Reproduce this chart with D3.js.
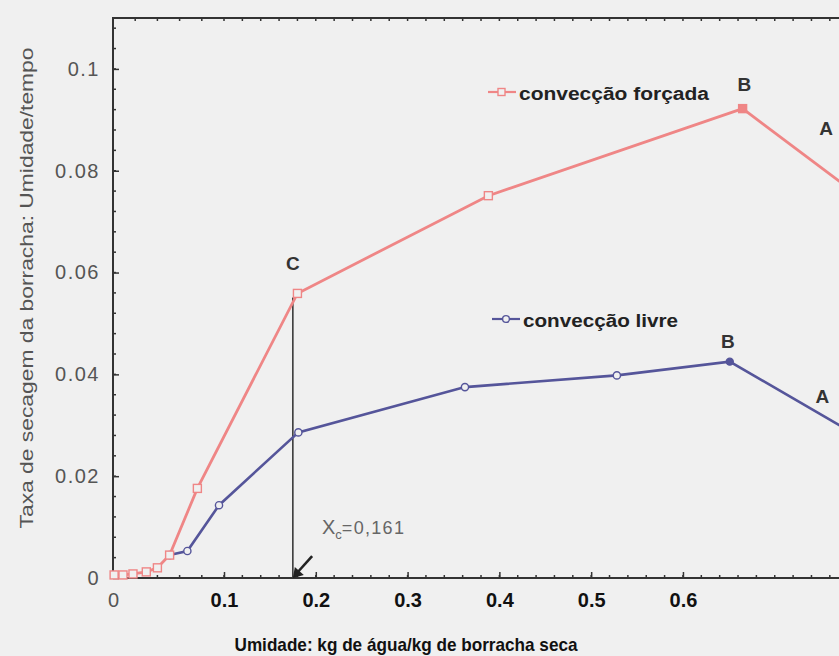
<!DOCTYPE html>
<html>
<head>
<meta charset="utf-8">
<script src="https://d3js.org/d3.v7.min.js"></script>
<style>
  body { margin: 0; background: #f0f0f0; }
  svg { display: block; }
</style>
</head>
<body>
<div id="graph-area"></div>
<script>

    // convecção forçada (red squares)
    const forcedX = [0.001, 0.009, 0.018, 0.030, 0.040, 0.051, 0.076, 0.180, 0.388, 0.665, 0.800];
    const forcedY = [0.0006, 0.0006, 0.0008, 0.0012, 0.0020, 0.0045, 0.0176, 0.0559, 0.0751, 0.0922, 0.0739];

    // convecção livre (blue circles)
    const freeX = [0.051, 0.067, 0.0955, 0.181, 0.3625, 0.528, 0.651, 0.800];
    const freeY = [0.0045, 0.0053, 0.0143, 0.0286, 0.0375, 0.0398, 0.0425, 0.0269];

    const xTicks = [0, 0.1, 0.2, 0.3, 0.4, 0.5, 0.6];
    const xTickLabels = ["0", "0.1", "0.2", "0.3", "0.4", "0.5", "0.6"];
    const yTicks = [0, 0.02, 0.04, 0.06, 0.08, 0.1];
    const yTickLabels = ["0", "0.02", "0.04", "0.06", "0.08", "0.1"];

    const xcValue = 0.175;   // where the X_c line stands on the picture
    const xcText = "=0,161";

    const w = 839;
    const h = 656;
    const padLeft = 113, padRight = 839, padTop = 18, padBottom = 578;

    const red = "#ef8686";
    const blue = "#55559a";
    const bg = "#f0f0f0";

    // the scanned axis is stretched between 0 and 0.1
    const xScale = d3.scaleLinear()
                     .domain([0, 0.1, 0.77])
                     .range([padLeft, 224, padRight]);

    const yScale = d3.scaleLinear()
                     .domain([0, 0.11])
                     .range([padBottom, padTop]);

    const svg = d3.select("#graph-area").append("svg")
                  .attr("width", w)
                  .attr("height", h)
                  .style("background", bg);

    // minor ticks
    const minorY = d3.range(0, 0.1101, 0.004);
    const minorX = d3.range(0, 0.771, 0.02);

    svg.append("g").selectAll("line").data(minorY).enter().append("line")
       .attr("x1", padLeft).attr("x2", padLeft + 3)
       .attr("y1", d => yScale(d)).attr("y2", d => yScale(d))
       .attr("stroke", "#333").attr("stroke-width", 1.5);

    svg.append("g").selectAll("line").data(minorX).enter().append("line")
       .attr("x1", d => xScale(d)).attr("x2", d => xScale(d))
       .attr("y1", padBottom).attr("y2", padBottom - 3)
       .attr("stroke", "#333").attr("stroke-width", 1.5);

    svg.append("g").selectAll("line").data(minorX).enter().append("line")
       .attr("x1", d => xScale(d)).attr("x2", d => xScale(d))
       .attr("y1", padTop).attr("y2", padTop + 3)
       .attr("stroke", "#333").attr("stroke-width", 1.5);

    // axes
    const yAxis = d3.axisLeft(yScale)
                    .tickValues(yTicks)
                    .tickFormat((d, i) => yTickLabels[i])
                    .tickSize(-6)
                    .tickPadding(13);

    const gy = svg.append("g")
       .attr("transform", "translate(" + padLeft + ",0)")
       .call(yAxis);
    gy.select(".domain").remove();
    gy.selectAll(".tick line").attr("stroke", "#333").attr("stroke-width", 1.5);
    gy.selectAll(".tick text")
      .style("font-family", "'Liberation Sans', Arial, sans-serif")
      .style("font-size", "20px")
      .style("letter-spacing", "1.5px")
      .attr("fill", "#555");

    const xAxis = d3.axisBottom(xScale)
                    .tickValues(xTicks)
                    .tickFormat((d, i) => xTickLabels[i])
                    .tickSize(-6)
                    .tickPadding(15);

    const gx = svg.append("g")
       .attr("transform", "translate(0," + padBottom + ")")
       .call(xAxis);
    gx.select(".domain").remove();
    gx.selectAll(".tick line").attr("stroke", "#333").attr("stroke-width", 1.5);
    gx.selectAll(".tick text")
      .style("font-family", "'Liberation Sans', Arial, sans-serif")
      .style("font-size", "20px")
      .style("font-weight", (d) => d === 0 ? "normal" : "bold")
      .attr("fill", (d) => d === 0 ? "#555" : "#111");

    // frame
    svg.append("path")
       .attr("d", "M" + padRight + "," + padTop + "H" + padLeft + "V" + padBottom + "H" + padRight)
       .attr("fill", "none")
       .attr("stroke", "#333")
       .attr("stroke-width", 2);

    // X_c vertical line
    svg.append("line")
       .attr("x1", xScale(xcValue)).attr("x2", xScale(xcValue))
       .attr("y1", yScale(forcedY[7]) + 4).attr("y2", padBottom)
       .attr("stroke", "#3a3a3a")
       .attr("stroke-width", 1.6);

    const line = d3.line().x(d => xScale(d[0])).y(d => yScale(d[1]));
    const forced = d3.zip(forcedX, forcedY);
    const free = d3.zip(freeX, freeY);

    svg.append("path").datum(free)
       .attr("d", line)
       .attr("fill", "none").attr("stroke", blue).attr("stroke-width", 2.6);

    svg.append("path").datum(forced)
       .attr("d", line)
       .attr("fill", "none").attr("stroke", red).attr("stroke-width", 2.8);

    const peakFree = d3.maxIndex(freeY);
    const peakForced = d3.maxIndex(forcedY);

    svg.append("g").selectAll("circle").data(free).enter().append("circle")
       .attr("cx", d => xScale(d[0]))
       .attr("cy", d => yScale(d[1]))
       .attr("r", (d, i) => i === peakFree ? 3.5 : 3.6)
       .attr("fill", (d, i) => i === peakFree ? blue : bg)
       .attr("stroke", blue).attr("stroke-width", 1.4);

    svg.append("g").selectAll("rect").data(forced).enter().append("rect")
       .attr("x", d => xScale(d[0]) - 4)
       .attr("y", d => yScale(d[1]) - 4)
       .attr("width", 8).attr("height", 8)
       .attr("fill", (d, i) => i === peakForced ? red : bg)
       .attr("stroke", red).attr("stroke-width", 1.4);

    // letters A, B, C
    const letters = [
      { t: "C", x: xcValue, y: 0.0618 },
      { t: "B", x: 0.667, y: 0.0971 },
      { t: "A", x: 0.756, y: 0.0884 },
      { t: "B", x: 0.649, y: 0.0465 },
      { t: "A", x: 0.752, y: 0.0357 }
    ];
    svg.append("g").selectAll("text").data(letters).enter().append("text")
       .attr("x", d => xScale(d.x))
       .attr("y", d => yScale(d.y))
       .attr("dy", "0.36em")
       .attr("text-anchor", "middle")
       .style("font-family", "'Liberation Sans', Arial, sans-serif")
       .style("font-size", "19px")
       .style("font-weight", "bold")
       .attr("fill", "#333")
       .text(d => d.t);

    // legends
    function legend(x, y, textLen, label, color, marker) {
      const g = svg.append("g");
      g.append("line").attr("x1", x).attr("x2", x + 28).attr("y1", y).attr("y2", y)
       .attr("stroke", color).attr("stroke-width", 2.2);
      if (marker === "square") {
        g.append("rect").attr("x", x + 10).attr("y", y - 3.5).attr("width", 7).attr("height", 7)
         .attr("fill", bg).attr("stroke", color).attr("stroke-width", 1.4);
      } else {
        g.append("circle").attr("cx", x + 14).attr("cy", y).attr("r", 3.4)
         .attr("fill", bg).attr("stroke", color).attr("stroke-width", 1.4);
      }
      g.append("text")
       .attr("x", x + 31).attr("y", y + 8)
       .attr("textLength", textLen).attr("lengthAdjust", "spacingAndGlyphs")
       .style("font-family", "'Liberation Sans', Arial, sans-serif")
       .style("font-size", "18px")
       .style("font-weight", "bold")
       .attr("fill", "#222")
       .text(label);
    }
    legend(488, 92, 190, "convecção forçada", red, "square");
    legend(492, 319, 155, "convecção livre", blue, "circle");

    // X_c label
    const xcLab = svg.append("text")
       .attr("x", 322).attr("y", 534)
       .style("font-family", "'Liberation Sans', Arial, sans-serif")
       .attr("fill", "#666");
    xcLab.append("tspan").style("font-size", "20px").text("X");
    xcLab.append("tspan").attr("dy", 5).style("font-size", "13px").text("c");
    xcLab.append("tspan").attr("dy", -5).style("font-size", "18px")
         .style("letter-spacing", "1.3px").text(xcText);

    // arrow pointing at X_c on the axis
    const tipX = xScale(xcValue), tipY = padBottom;
    svg.append("line")
       .attr("x1", xScale(xcValue + 0.021)).attr("y1", yScale(0.0043))
       .attr("x2", tipX + 5).attr("y2", tipY - 6)
       .attr("stroke", "#222").attr("stroke-width", 2.6);
    svg.append("path")
       .attr("d", "M" + tipX + "," + tipY + "l2,-11l9,8z")
       .attr("fill", "#222");

    // x axis title
    svg.append("text")
      .attr("x", 406).attr("y", 651)
      .attr("text-anchor", "middle")
      .attr("textLength", 343).attr("lengthAdjust", "spacingAndGlyphs")
      .style("font-family", "'Liberation Sans', Arial, sans-serif")
      .style("font-size", "19px")
      .style("font-weight", "bold")
      .attr("fill", "#111")
      .text("Umidade: kg de água/kg de borracha seca");

    // y axis title
    svg.append("text")
      .attr("transform", "translate(33," + 288 + ") rotate(-90)")
      .attr("text-anchor", "middle")
      .attr("textLength", 481).attr("lengthAdjust", "spacingAndGlyphs")
      .style("font-family", "'Liberation Sans', Arial, sans-serif")
      .style("font-size", "19px")
      .attr("fill", "#555")
      .text("Taxa de secagem da borracha: Umidade/tempo");

</script>
</body>
</html>
